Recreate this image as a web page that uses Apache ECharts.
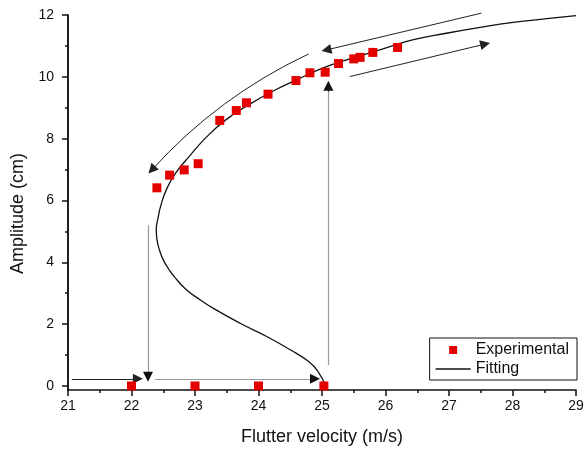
<!DOCTYPE html>
<html>
<head>
<meta charset="utf-8">
<script src="https://cdn.jsdelivr.net/npm/echarts@6/dist/echarts.min.js"></script>
<style>
  html, body { margin: 0; padding: 0; background: #fff; }
  #chart { width: 584px; height: 450px; }
</style>
</head>
<body>
<div id="chart"></div>
<script>
// 实验点
const expX = [22.00, 23.00, 24.00, 25.03, 22.40, 22.60, 22.83, 23.05, 23.39, 23.65, 23.81, 24.15, 24.59, 24.81, 25.05, 25.26, 25.50, 25.60, 25.80, 26.19]
const expY = [0, 0, 0, 0, 6.41, 6.82, 6.99, 7.19, 8.59, 8.91, 9.16, 9.44, 9.88, 10.13, 10.15, 10.43, 10.58, 10.63, 10.79, 10.95]

// 拟合曲线 (从右上沿上支到拐点，再沿下支到 25 m/s)
const fitX = [29.00, 28.54, 28.01, 27.49, 26.96, 26.44, 25.91, 25.39, 24.97, 24.60, 24.24, 23.85, 23.48, 23.18, 22.92, 22.70, 22.56, 22.47, 22.42, 22.39, 22.40, 22.44, 22.50, 22.58, 22.68, 22.86, 23.08, 23.29, 23.71, 24.13, 24.50, 24.79, 24.94, 25.05]
const fitY = [11.98, 11.88, 11.76, 11.60, 11.41, 11.20, 10.87, 10.55, 10.25, 9.90, 9.55, 9.10, 8.60, 8.05, 7.45, 6.90, 6.40, 5.90, 5.45, 5.05, 4.75, 4.40, 4.08, 3.80, 3.52, 3.12, 2.79, 2.51, 2.03, 1.60, 1.17, 0.79, 0.46, 0.03]

// 箭头 (起点, 终点)
const darkArrows = [
  [[21.06, 0.23], [22.10, 0.23]],
  [[27.51, 12.06], [25.07, 10.87]],
  [[25.44, 10.01], [27.57, 11.06]]
]
const curvedArrow = [[24.79, 10.74], [22.32, 6.99]]
const greyArrows = [
  [[22.37, 0.23], [24.89, 0.23]],
  [[22.26, 5.20], [22.26, 0.30]],
  [[25.10, 0.68], [25.10, 9.71]]
]

// 刻度
const xTicks = [21, 22, 23, 24, 25, 26, 27, 28, 29]
const yLabels = [0, 2, 4, 6, 8, 10, 12]
const yMinor = [1, 3, 5, 7, 9, 11]

const FONT = 'Liberation Sans, Arial, sans-serif'
const arrowHead = 'path://M5,0 L10,12 L0,12 Z'

const chart = echarts.init(document.getElementById('chart'))

const yBase = {
  type: 'value',
  min: -0.13,
  max: 12,
  position: 'left',
  splitLine: { show: false },
  axisLine: { show: true, lineStyle: { color: '#111', width: 1.5 } }
}

// 灰色箭头：线身灰色，箭头黑色 (箭头单独画一小段)
const greyHeads = greyArrows.map(([a, b]) => {
  const dx = b[0] - a[0], dy = b[1] - a[1]
  return { coords: [[b[0] - dx * 0.02, b[1] - dy * 0.02], b] }
})

const option = {
  backgroundColor: '#fff',
  animation: false,
  grid: { left: 68, right: 8, top: 15, bottom: 60, outerBoundsMode: 'none' },
  legend: {
    data: [
      { name: 'Experimental', icon: 'path://M0,0 H10 V10 H0 Z' },
      { name: 'Fitting', icon: 'path://M0,0 H70 V3 H0 Z' }
    ],
    orient: 'vertical',
    right: 7,
    bottom: 70,
    padding: [4, 8, 3, 6],
    itemGap: 3,
    itemWidth: 35,
    itemHeight: 8,
    borderColor: '#111',
    borderWidth: 1,
    borderRadius: 0,
    textStyle: { fontFamily: FONT, fontSize: 16, color: '#111' }
  },
  xAxis: {
    type: 'value',
    min: xTicks[0],
    max: xTicks[xTicks.length - 1],
    interval: 1,
    name: 'Flutter velocity (m/s)',
    nameLocation: 'middle',
    nameGap: 38,
    nameTextStyle: { fontFamily: FONT, fontSize: 18, color: '#111' },
    axisLine: { show: true, onZero: false, lineStyle: { color: '#111', width: 1.5 } },
    axisTick: { show: true, inside: false, length: 6, lineStyle: { color: '#111', width: 1.5 } },
    minorTick: { show: true, splitNumber: 2, length: 3, lineStyle: { color: '#111', width: 1.5 } },
    axisLabel: { fontFamily: FONT, fontSize: 14, color: '#111', margin: 9 },
    splitLine: { show: false }
  },
  yAxis: [
    {
      ...yBase,
      name: 'Amplitude (cm)',
      nameLocation: 'middle',
      nameGap: 35,
      nameTextStyle: { fontFamily: FONT, fontSize: 18, color: '#111', padding: [0, 22, 0, 0] },
      axisTick: { show: true, customValues: yLabels, length: 6, lineStyle: { color: '#111', width: 1.5 } },
      axisLabel: { customValues: yLabels, fontFamily: FONT, fontSize: 14, color: '#111', margin: 14 }
    },
    {
      ...yBase,
      axisTick: { show: true, customValues: yMinor, length: 3, lineStyle: { color: '#111', width: 1.5 } },
      axisLabel: { show: false }
    }
  ],
  series: [
    {
      name: 'Fitting',
      type: 'line',
      data: fitX.map((x, i) => [x, fitY[i]]),
      smooth: 0.5,
      symbol: 'none',
      lineStyle: { color: '#111', width: 1.3 },
      itemStyle: { color: '#111' },
      z: 3
    },
    {
      name: 'Experimental',
      type: 'scatter',
      data: expX.map((x, i) => [x, expY[i]]),
      symbol: 'rect',
      symbolSize: 9,
      itemStyle: { color: '#e50000', opacity: 1 },
      z: 4
    },
    {
      type: 'lines',
      coordinateSystem: 'cartesian2d',
      clip: false,
      symbol: ['none', arrowHead],
      symbolSize: [6, 10],
      lineStyle: { color: '#222', width: 1, opacity: 1 },
      data: darkArrows.map(c => ({ coords: c })).concat([
        { coords: curvedArrow, lineStyle: { curveness: -0.1 } }
      ]),
      z: 2
    },
    {
      type: 'lines',
      coordinateSystem: 'cartesian2d',
      clip: false,
      symbol: 'none',
      lineStyle: { color: '#9a9a9a', width: 1.2, opacity: 1 },
      data: greyArrows.map(c => ({ coords: c })),
      z: 2
    },
    {
      type: 'lines',
      coordinateSystem: 'cartesian2d',
      clip: false,
      symbol: ['none', arrowHead],
      symbolSize: [6, 10],
      lineStyle: { color: '#111', width: 1, opacity: 1 },
      data: greyHeads,
      z: 2
    }
  ]
}

chart.setOption(option)
</script>
</body>
</html>
